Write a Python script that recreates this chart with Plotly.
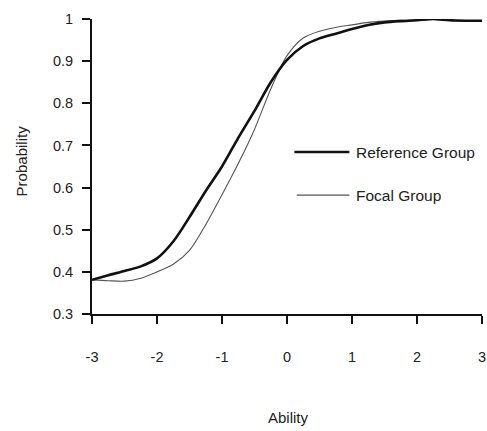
import plotly.graph_objects as go

ability = [-3.0, -2.75, -2.5, -2.25, -2.0, -1.75, -1.5, -1.25, -1.0, -0.75, -0.5, -0.25,
           0.0, 0.25, 0.5, 0.75, 1.0, 1.25, 1.5, 1.75, 2.0, 2.25, 2.5, 2.75, 3.0]
reference_group = [0.381, 0.392, 0.402, 0.413, 0.432, 0.472, 0.530, 0.592, 0.650, 0.718, 0.782, 0.850,
                   0.903, 0.936, 0.954, 0.965, 0.976, 0.986, 0.992, 0.995, 0.997, 1.000, 0.997, 0.996, 0.996]
focal_group = [0.381, 0.379, 0.378, 0.385, 0.400, 0.418, 0.451, 0.512, 0.583, 0.657, 0.738, 0.834,
               0.913, 0.955, 0.971, 0.980, 0.986, 0.992, 0.995, 0.997, 0.998, 0.999, 0.997, 0.996, 0.996]
x_ticks = [-3, -2, -1, 0, 1, 2, 3]
y_ticks = [0.3, 0.4, 0.5, 0.6, 0.7, 0.8, 0.9, 1.0]
y_tick_labels = ["0.3", "0.4", "0.5", "0.6", "0.7", "0.8", "0.9", "1"]
series_names = ["Reference Group", "Focal Group"]

FONT = "Liberation Sans, Arial, sans-serif"
TXT = "#222222"

fig = go.Figure()
fig.add_trace(go.Scatter(x=ability, y=focal_group, mode="lines", name=series_names[1],
                         line=dict(color="#555555", width=1.1, shape="spline", smoothing=0.8),
                         showlegend=False))
fig.add_trace(go.Scatter(x=ability, y=reference_group, mode="lines", name=series_names[0],
                         line=dict(color="#111111", width=2.6, shape="spline", smoothing=0.8),
                         showlegend=False))

# legend drawn manually to match the reference's long line samples
fig.add_shape(type="line", xref="paper", yref="paper", x0=0.519, x1=0.660, y0=0.549, y1=0.549,
              line=dict(color="#111111", width=2.6))
fig.add_shape(type="line", xref="paper", yref="paper", x0=0.525, x1=0.660, y0=0.403, y1=0.403,
              line=dict(color="#555555", width=1.1))
fig.add_annotation(xref="paper", yref="paper", x=0.672, y=0.549, text=series_names[0],
                   showarrow=False, xanchor="left", yanchor="middle",
                   font=dict(family=FONT, size=15.5, color=TXT))
fig.add_annotation(xref="paper", yref="paper", x=0.672, y=0.403, text=series_names[1],
                   showarrow=False, xanchor="left", yanchor="middle",
                   font=dict(family=FONT, size=15.5, color=TXT))

# axis titles
fig.add_annotation(xref="paper", yref="paper", x=0.503, y=-0.35, text="Ability",
                   showarrow=False, xanchor="center", yanchor="middle",
                   font=dict(family=FONT, size=15, color=TXT))
fig.add_annotation(xref="paper", yref="paper", x=-0.18, y=0.52, text="Probability",
                   showarrow=False, xanchor="center", yanchor="middle", textangle=-90,
                   font=dict(family=FONT, size=15, color=TXT))

fig.update_layout(
    width=487, height=431,
    margin=dict(l=92, r=5, t=19, b=117, autoexpand=False),
    paper_bgcolor="white", plot_bgcolor="white",
    font=dict(family=FONT, size=14, color=TXT),
)
fig.update_xaxes(range=[-3, 3], tickvals=x_ticks, ticktext=[str(v) for v in x_ticks],
                 showgrid=False, zeroline=False, showline=True, linecolor="#111111", linewidth=2,
                 ticks="outside", ticklen=8, tickwidth=2, tickcolor="#111111",
                 ticklabelstandoff=21, tickfont=dict(family=FONT, size=14.5, color=TXT))
fig.update_yaxes(range=[0.3, 1.0], tickvals=y_ticks, ticktext=y_tick_labels,
                 showgrid=False, zeroline=False, showline=True, linecolor="#111111", linewidth=2,
                 ticks="outside", ticklen=8, tickwidth=2, tickcolor="#111111",
                 ticklabelstandoff=6, tickfont=dict(family=FONT, size=14.5, color=TXT))

fig.write_html("out.html", config={"displayModeBar": False},
               post_script="document.body.style.margin='0';document.body.style.overflow='hidden';")
